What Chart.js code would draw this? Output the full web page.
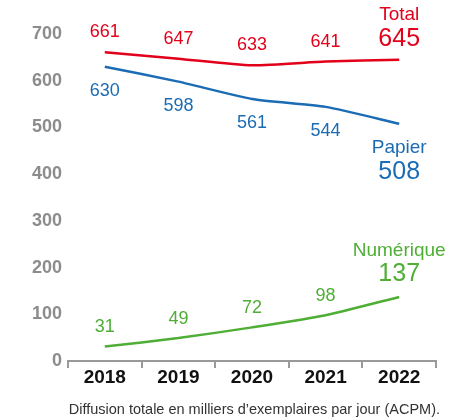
<!DOCTYPE html>
<html lang="fr">
<head>
    <meta charset="UTF-8">
    <title>Diffusion</title>
    <script src="https://cdn.jsdelivr.net/npm/chart.js"></script>
    <style>
        body { margin: 0; background: #fff; }
        #wrap { width: 451px; height: 417px; }
    </style>
</head>
<body>
<div id="wrap"><canvas id="chart"></canvas></div>
<script>
    // data
    const years = ["2018", "2019", "2020", "2021", "2022"];
    const total = [661, 647, 633, 641, 645];
    const papier = [630, 598, 561, 544, 508];
    const numerique = [31, 49, 72, 98, 137];
    const yTicks = [0, 100, 200, 300, 400, 500, 600, 700];
    const caption = "Diffusion totale en milliers d\u2019exemplaires par jour (ACPM).";

    const FONT = "'Liberation Sans', Arial, sans-serif";
    const RED = "#e2001a", BLUE = "#1b6cb4", GREEN = "#4fae35";

    // per-series label offsets (px from the point): values, then the last-point name/value
    const labelStyle = [
        { name: "Total", off: -20, nameOff: -45, lastOff: -21 },
        { name: "Papier", off: 24, nameOff: 24, lastOff: 48 },
        { name: "Numérique", off: -19, nameOff: -46, lastOff: -23 }
    ];

    const valueLabels = {
        id: "valueLabels",
        afterDatasetsDraw(chart) {
            const ctx = chart.ctx;
            ctx.save();
            ctx.textAlign = "center";
            ctx.textBaseline = "middle";
            chart.data.datasets.forEach((ds, i) => {
                const st = labelStyle[i];
                const pts = chart.getDatasetMeta(i).data;
                ctx.fillStyle = ds.borderColor;
                pts.forEach((p, j) => {
                    if (j < pts.length - 1) {
                        ctx.font = "18px " + FONT;
                        ctx.fillText(ds.data[j], p.x, p.y + st.off);
                    } else {
                        ctx.font = "19px " + FONT;
                        ctx.fillText(st.name, p.x, p.y + st.nameOff);
                        ctx.font = "25px " + FONT;
                        ctx.fillText(ds.data[j], p.x, p.y + st.lastOff);
                    }
                });
            });
            // source line under the axis
            ctx.font = "14.5px " + FONT;
            ctx.fillStyle = "#333";
            ctx.textAlign = "right";
            ctx.fillText(caption, chart.chartArea.right + 4, chart.height - 7);
            ctx.restore();
        }
    };

    new Chart(document.getElementById("chart"), {
        type: "line",
        data: {
            labels: years,
            datasets: [
                { label: "Total", data: total, borderColor: RED },
                { label: "Papier", data: papier, borderColor: BLUE },
                { label: "Numérique", data: numerique, borderColor: GREEN }
            ].map(d => Object.assign(d, { borderWidth: 2.5, pointRadius: 0, tension: 0.2, fill: false }))
        },
        options: {
            responsive: true,
            maintainAspectRatio: false,
            animation: false,
            layout: { padding: { top: 34, right: 15, left: 0, bottom: 30 } },
            plugins: {
                legend: { display: false },
                tooltip: { enabled: false }
            },
            scales: {
                x: {
                    offset: true,
                    grid: { display: true, drawOnChartArea: false, drawTicks: true, tickLength: 7, color: "#999", lineWidth: 2, offset: true },
                    border: { display: true, color: "#999", width: 2 },
                    ticks: { color: "#111", padding: 0, font: { family: FONT, size: 19, weight: "bold", lineHeight: 1 } }
                },
                y: {
                    min: 0,
                    max: 700,
                    afterFit(scale) { scale.width = 68; },
                    afterBuildTicks(scale) { scale.ticks = yTicks.map(v => ({ value: v })); },
                    grid: { display: false, drawTicks: false },
                    border: { display: false },
                    ticks: { color: "#8c8c8c", padding: 6, font: { family: FONT, size: 18, weight: "bold" } }
                }
            }
        },
        plugins: [valueLabels]
    });
</script>
</body>
</html>
